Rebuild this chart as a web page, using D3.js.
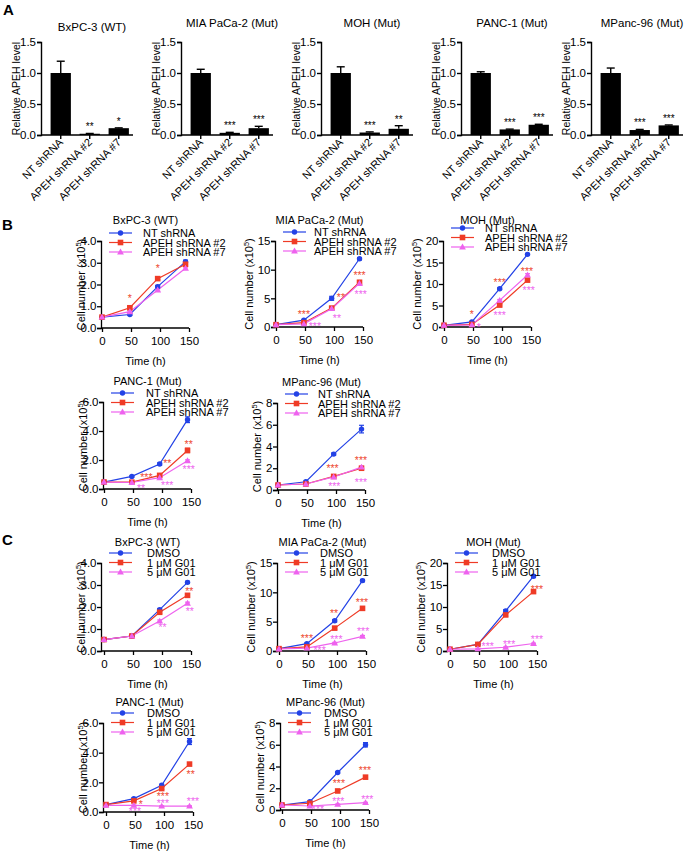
<!DOCTYPE html>
<html><head><meta charset="utf-8">
<script src="https://cdn.jsdelivr.net/npm/d3@7/dist/d3.min.js"></script>
<style>body{margin:0;background:#fff}svg text{font-family:"Liberation Sans",Arial,sans-serif}</style>
</head><body><svg id="c" width="693" height="853"></svg>
<script>
// ---------------- DATA ----------------
// Panel A
const barTitles = ["BxPC-3 (WT)", "MIA PaCa-2 (Mut)", "MOH (Mut)", "PANC-1 (Mut)", "MPanc-96 (Mut)"];
const barCategories = ["NT shRNA", "APEH shRNA #2", "APEH shRNA #7"];
const barMeans = [[1.0, 0.02, 0.11], [1.0, 0.035, 0.11], [1.0, 0.04, 0.10], [1.0, 0.09, 0.165], [1.0, 0.08, 0.155]];
const barErrors = [[0.19, 0.005, 0.005], [0.06, 0.008, 0.03], [0.10, 0.01, 0.05], [0.02, 0.005, 0.008], [0.08, 0.01, 0.007]];
const barStars = [["", "**", "*"], ["", "***", "***"], ["", "***", "**"], ["", "***", "***"], ["", "***", "***"]];
const barTicks = [0, 0.5, 1.0, 1.5];

// Panels B and C
const timePoints = [0, 48, 96, 144];
const timeTicks = [0, 50, 100, 150];
const shSeries = ["NT shRNA", "APEH shRNA #2", "APEH shRNA #7"];
const g01Series = ["DMSO", "1 μM G01", "5 μM G01"];
const lineTitles = ["BxPC-3 (WT)", "MIA PaCa-2 (Mut)", "MOH (Mut)", "PANC-1 (Mut)", "MPanc-96 (Mut)"];
const yMaxes = [4, 15, 20, 6, 8];
const ySteps = [1, 5, 5, 2, 2];

// B: shRNA knockdown growth
const shBxPC3 = [[0.5, 0.62, 1.9, 3.05], [0.5, 0.93, 2.27, 2.93], [0.5, 0.75, 1.75, 2.75]];
const shBxPC3Err = [[0, 0.04, 0.06, 0.07], [0, 0.05, 0.05, 0.06], [0, 0.03, 0.05, 0.05]];
const shBxPC3Stars = [[1, 48, 1.45, "*"], [1, 96, 2.85, "*"]];
const shMIA = [[0.4, 1.2, 5.0, 11.9], [0.4, 0.75, 3.3, 7.8], [0.4, 0.55, 3.2, 7.6]];
const shMIAErr = [[0, 0.1, 0.35, 0.2], [0, 0.05, 0.2, 0.3], [0, 0.05, 0.1, 0.2]];
const shMIAStars = [[1, 48, 2.65, "***"], [1, 112, 5.5, "**"], [1, 144, 9.3, "***"], [2, 67, 0.5, "***"], [2, 105, 1.9, "**"], [2, 146, 6.0, "***"]];
const shMOH = [[0.4, 1.2, 8.9, 16.9], [0.4, 0.6, 5.1, 10.9], [0.4, 0.5, 6.2, 12.1]];
const shMOHErr = [[0, 0.1, 0.2, 0.2], [0, 0.1, 0.2, 0.3], [0, 0.1, 0.2, 0.3]];
const shMOHStars = [[1, 48, 3.5, "*"], [1, 96, 10.9, "***"], [1, 143, 13.5, "***"], [2, 60, 0.3, "*"], [2, 96, 3.3, "***"], [2, 146, 9.1, "***"]];
const shPANC1 = [[0.48, 0.87, 1.72, 4.78], [0.48, 0.47, 0.94, 2.66], [0.48, 0.45, 0.78, 1.95]];
const shPANC1Err = [[0, 0.04, 0.08, 0.2], [0, 0.03, 0.06, 0.15], [0, 0.03, 0.04, 0.06]];
const shPANC1Stars = [[1, 73, 0.97, "***"], [1, 109, 1.9, "**"], [1, 146, 3.2, "**"], [2, 64, 0.2, "**"], [2, 109, 0.37, "***"], [2, 146, 1.5, "***"]];
const shMPanc = [[0.46, 0.76, 3.3, 5.6], [0.46, 0.55, 1.25, 2.0], [0.46, 0.55, 1.2, 2.1]];
const shMPancErr = [[0, 0.05, 0.1, 0.35], [0, 0.04, 0.1, 0.12], [0, 0.04, 0.08, 0.1]];
const shMPancStars = [[1, 94, 2.2, "***"], [1, 143, 2.9, "***"], [2, 97, 0.5, "***"], [2, 143, 0.9, "***"]];

// C: G01 treatment growth
const g01BxPC3 = [[0.52, 0.68, 1.88, 3.12], [0.52, 0.68, 1.76, 2.53], [0.52, 0.68, 1.36, 2.17]];
const g01BxPC3Err = [[0, 0.03, 0.05, 0.05], [0, 0.03, 0.05, 0.06], [0, 0.03, 0.05, 0.05]];
const g01BxPC3Stars = [[1, 147, 2.83, "**"], [2, 101, 1.17, "**"], [2, 148, 1.92, "**"]];
const g01MIA = [[0.4, 1.26, 5.15, 12.0], [0.4, 0.7, 3.9, 7.27], [0.35, 0.5, 1.37, 2.5]];
const g01MIAErr = [[0, 0.1, 0.2, 0.2], [0, 0.1, 0.2, 0.25], [0, 0.05, 0.1, 0.15]];
const g01MIAStars = [[1, 48, 2.5, "***"], [1, 95, 6.7, "**"], [1, 143, 8.6, "***"], [2, 70, 0.4, "***"], [2, 99, 2.3, "***"], [2, 145, 3.7, "***"]];
const g01MOH = [[0.4, 1.5, 9.1, 17.0], [0.4, 1.5, 8.2, 13.5], [0.4, 0.5, 0.85, 1.7]];
const g01MOHErr = [[0, 0.1, 0.3, 0.3], [0, 0.1, 0.3, 0.3], [0, 0.05, 0.1, 0.1]];
const g01MOHStars = [[1, 150, 14.5, "***"], [2, 65, 1.45, "***"], [2, 102, 2.1, "***"], [2, 150, 3.2, "***"]];
const g01PANC1 = [[0.5, 0.9, 1.8, 4.75], [0.5, 0.75, 1.58, 3.23], [0.45, 0.45, 0.4, 0.4]];
const g01PANC1Err = [[0, 0.05, 0.06, 0.2], [0, 0.04, 0.06, 0.08], [0, 0.02, 0.02, 0.02]];
const g01PANC1Stars = [[1, 60, 0.68, "*"], [1, 98, 1.2, "***"], [1, 146, 2.7, "**"], [2, 50, 0.16, "***"], [2, 98, 0.73, "***"], [2, 150, 0.84, "***"]];
const g01MPanc = [[0.46, 0.77, 3.45, 6.0], [0.46, 0.62, 1.75, 3.02], [0.46, 0.37, 0.52, 0.68]];
const g01MPancErr = [[0, 0.04, 0.08, 0.2], [0, 0.04, 0.08, 0.08], [0, 0.02, 0.03, 0.03]];
const g01MPancStars = [[1, 98, 2.68, "***"], [1, 143, 3.8, "***"], [2, 62, 0.25, "***"], [2, 97, 0.98, "***"], [2, 147, 1.14, "***"]];

// ---------------- STYLE / LAYOUT ----------------
const colors = ["#2342e6", "#ef3b26", "#ee62ee"];
const starColors = ["#2342e6", "#ee4a33", "#ee66ee"];
const svg = d3.select("#c");

svg.append("rect").attr("width", 693).attr("height", 853).attr("fill", "#fff");

[["A", 3, 15], ["B", 2, 230], ["C", 2, 545]].forEach(([t, x, y]) => {
  svg.append("text").attr("x", x).attr("y", y).text(t)
    .attr("font-size", 15).attr("font-weight", "bold");
});

// ---------------- PANEL A ----------------
const aAxisX = [41, 181, 321, 461, 591];
const aTop = 42, aBot = 135;
barTitles.forEach((title, i) => {
  const x0 = aAxisX[i];
  const g = svg.append("g");
  const x = d3.scaleBand().domain(barCategories).range([x0, x0 + 92])
    .paddingInner(0.3).paddingOuter(0.236).align(0.7);
  const y = d3.scaleLinear().domain([0, 1.5]).range([aBot, aTop]);

  const ya = g.append("g").attr("transform", `translate(${x0},0)`)
    .call(d3.axisLeft(y).tickValues(barTicks).tickFormat(d3.format(".1f")).tickSize(4).tickPadding(1));
  ya.attr("font-family", null);
  ya.selectAll("text").attr("font-size", 11.5).attr("fill", "#000");
  ya.selectAll("line,path").attr("stroke", "#000").attr("stroke-width", 1.4);

  const xa = g.append("g").attr("transform", `translate(0,${aBot})`)
    .call(d3.axisBottom(x).tickSize(4).tickFormat(""));
  xa.select(".domain").remove();
  xa.selectAll("line").attr("stroke", "#000").attr("stroke-width", 1.4);
  g.append("line").attr("x1", x0).attr("x2", x0 + 92).attr("y1", aBot).attr("y2", aBot)
    .attr("stroke", "#000").attr("stroke-width", 1.4);

  barCategories.forEach((c, j) => {
    const cx = x(c) + x.bandwidth() / 2;
    g.append("text").attr("transform", `translate(${cx + 3},${aBot + 8}) rotate(-45)`)
      .attr("text-anchor", "end").attr("font-size", 11).text(c);
  });

  const m = barMeans[i], e = barErrors[i];
  g.selectAll("rect.bar").data(barCategories).enter().append("rect")
    .attr("x", d => x(d)).attr("width", x.bandwidth())
    .attr("y", (d, j) => y(m[j])).attr("height", (d, j) => aBot - y(m[j]))
    .attr("fill", "#000");
  barCategories.forEach((c, j) => {
    const cx = x(c) + x.bandwidth() / 2;
    const yt = y(m[j] + e[j]);
    g.append("line").attr("x1", cx).attr("x2", cx).attr("y1", y(m[j])).attr("y2", yt)
      .attr("stroke", "#000").attr("stroke-width", 1.4);
    g.append("line").attr("x1", cx - 4).attr("x2", cx + 4).attr("y1", yt).attr("y2", yt)
      .attr("stroke", "#000").attr("stroke-width", 1.4);
    if (barStars[i][j]) {
      g.append("text").attr("x", cx).attr("y", yt - 3).attr("text-anchor", "middle")
        .attr("font-size", 10).attr("fill", "#000").text(barStars[i][j]);
    }
  });

  g.append("text").attr("transform", `translate(${x0 - 21},${(aTop + aBot) / 2}) rotate(-90)`)
    .attr("text-anchor", "middle").attr("font-size", 10.5).text("Relative APEH level");
  g.append("text").attr("x", x0 + 51).attr("y", i === 0 ? 31 : 27).attr("text-anchor", "middle")
    .attr("font-size", 11.5).text(title);
});

// ---------------- PANELS B, C ----------------
const lineCharts = [
  {title: 0, labels: shSeries, vals: shBxPC3, errs: shBxPC3Err, stars: shBxPC3Stars, ox: 102, top: 241, bottom: 328, gap: 1, legY: 233, legX: 42},
  {title: 1, labels: shSeries, vals: shMIA, errs: shMIAErr, stars: shMIAStars, ox: 276, top: 241, bottom: 327, gap: 1, legY: 232, legX: 39},
  {title: 2, labels: shSeries, vals: shMOH, errs: shMOHErr, stars: shMOHStars, ox: 444, top: 241, bottom: 327, gap: 1, legY: 228, legX: 42},
  {title: 3, labels: shSeries, vals: shPANC1, errs: shPANC1Err, stars: shPANC1Stars, ox: 104, top: 402, bottom: 489, gap: 1, legY: 393, legX: 43},
  {title: 4, labels: shSeries, vals: shMPanc, errs: shMPancErr, stars: shMPancStars, ox: 278, top: 403, bottom: 490, gap: 1, legY: 394, legX: 41},
  {title: 0, labels: g01Series, vals: g01BxPC3, errs: g01BxPC3Err, stars: g01BxPC3Stars, ox: 104, top: 563, bottom: 651, gap: 3, legY: 553, legX: 46},
  {title: 1, labels: g01Series, vals: g01MIA, errs: g01MIAErr, stars: g01MIAStars, ox: 279, top: 563, bottom: 651, gap: 2, legY: 553, legX: 43},
  {title: 2, labels: g01Series, vals: g01MOH, errs: g01MOHErr, stars: g01MOHStars, ox: 450, top: 563, bottom: 651, gap: 3, legY: 553, legX: 45},
  {title: 3, labels: g01Series, vals: g01PANC1, errs: g01PANC1Err, stars: g01PANC1Stars, ox: 106, top: 723, bottom: 812, gap: 3, legY: 713, legX: 44},
  {title: 4, labels: g01Series, vals: g01MPanc, errs: g01MPancErr, stars: g01MPancStars, ox: 282, top: 723, bottom: 810, gap: 2, legY: 713, legX: 44}
];

function marker(g, k, cx, cy) {
  if (k === 0) {
    g.append("circle").attr("cx", cx).attr("cy", cy).attr("r", 2.7).attr("fill", colors[0]);
  } else if (k === 1) {
    g.append("rect").attr("x", cx - 2.8).attr("y", cy - 2.8).attr("width", 5.6).attr("height", 5.6).attr("fill", colors[1]);
  } else {
    g.append("path").attr("d", d3.symbol(d3.symbolTriangle, 20)()).attr("transform", `translate(${cx},${cy + 0.5})`).attr("fill", colors[2]);
  }
}

lineCharts.forEach(cfg => {
  const g = svg.append("g");
  const ymax = yMaxes[cfg.title], step = ySteps[cfg.title];
  const x = d3.scaleLinear().domain([0, 150]).range([cfg.ox, cfg.ox + 87]);
  const y = d3.scaleLinear().domain([0, ymax]).range([cfg.bottom, cfg.top]);
  const axX = cfg.ox - cfg.gap;

  const ya = g.append("g").attr("transform", `translate(${axX},0)`)
    .call(d3.axisLeft(y).tickValues(d3.range(0, ymax + step / 2, step)).tickSize(4).tickPadding(0.5));
  ya.attr("font-family", null);
  ya.selectAll("text").attr("font-size", 11.5).attr("fill", "#000");
  ya.selectAll("line,path").attr("stroke", "#000").attr("stroke-width", 1.3);

  const xa = g.append("g").attr("transform", `translate(0,${cfg.bottom})`)
    .call(d3.axisBottom(x).tickValues(timeTicks).tickSize(4).tickPadding(5));
  xa.attr("font-family", null);
  xa.select(".domain").remove();
  xa.selectAll("text").attr("font-size", 11.5).attr("fill", "#000");
  xa.selectAll("line").attr("stroke", "#000").attr("stroke-width", 1.3);
  g.append("line").attr("x1", axX).attr("x2", cfg.ox + 87).attr("y1", cfg.bottom).attr("y2", cfg.bottom)
    .attr("stroke", "#000").attr("stroke-width", 1.3);

  // labels
  const midX = cfg.ox + 43.5, midY = (cfg.top + cfg.bottom) / 2;
  g.append("text").attr("x", midX).attr("y", cfg.top - 17.5).attr("text-anchor", "middle")
    .attr("font-size", 11).text(lineTitles[cfg.title]);
  g.append("text").attr("x", midX).attr("y", cfg.bottom + 37).attr("text-anchor", "middle")
    .attr("font-size", 11).text("Time (h)");
  const yl = g.append("text").attr("transform", `translate(${axX - (ymax >= 10 ? 22 : 16)},${midY}) rotate(-90)`)
    .attr("text-anchor", "middle").attr("font-size", 11);
  yl.append("tspan").text("Cell number (x10");
  yl.append("tspan").attr("dy", -4).attr("font-size", 7.5).text("5");
  yl.append("tspan").attr("dy", 4).text(")");

  // series
  const line = d3.line().x((d, i) => x(timePoints[i])).y(d => y(d));
  cfg.vals.forEach((vals, k) => {
    g.append("path").attr("d", line(vals)).attr("fill", "none")
      .attr("stroke", colors[k]).attr("stroke-width", 1.2);
    vals.forEach((v, i) => {
      const e = cfg.errs[k][i];
      const cx = x(timePoints[i]);
      if (e > 0) {
        g.append("line").attr("x1", cx).attr("x2", cx).attr("y1", y(v - e)).attr("y2", y(v + e))
          .attr("stroke", colors[k]).attr("stroke-width", 1.2);
        [v - e, v + e].forEach(b => g.append("line").attr("x1", cx - 2.5).attr("x2", cx + 2.5)
          .attr("y1", y(b)).attr("y2", y(b)).attr("stroke", colors[k]).attr("stroke-width", 1.2));
      }
    });
  });
  cfg.vals.forEach((vals, k) => vals.forEach((v, i) => marker(g, k, x(timePoints[i]), y(v))));

  // significance stars
  cfg.stars.forEach(([k, t, v, s]) => {
    g.append("text").attr("x", x(t)).attr("y", y(v)).attr("dy", "0.55em").attr("text-anchor", "middle")
      .attr("font-size", 10.5).attr("fill", starColors[k]).text(s);
  });

  // legend
  cfg.labels.forEach((lab, k) => {
    const ly = cfg.legY + k * 9.5;
    g.append("line").attr("x1", axX + 8).attr("x2", axX + 31).attr("y1", ly).attr("y2", ly)
      .attr("stroke", colors[k]).attr("stroke-width", 1.2);
    marker(g, k, axX + 19.5, ly);
    g.append("text").attr("x", axX + cfg.legX).attr("y", ly + 4).attr("font-size", 11).text(lab);
  });
});
</script></body></html>
